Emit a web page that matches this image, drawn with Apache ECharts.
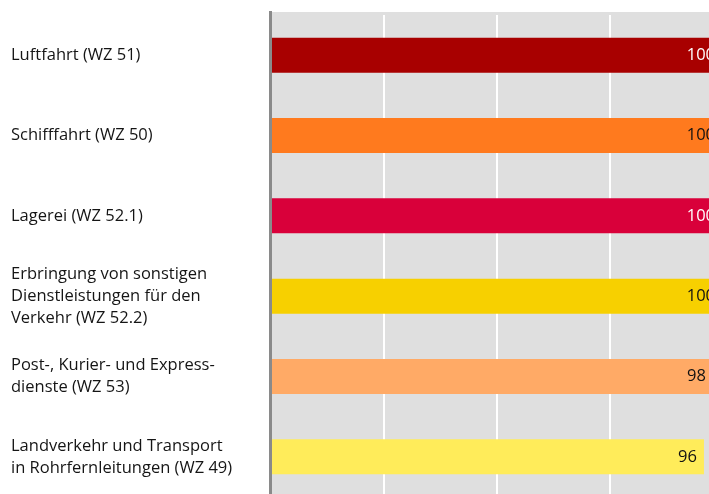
<!DOCTYPE html>
<html>
<head>
<meta charset="utf-8">
<script src="https://cdn.jsdelivr.net/npm/echarts@6/dist/echarts.min.js"></script>
<style>
  html, body { margin: 0; padding: 0; background: #fff; }
  #chart { width: 709px; height: 494px; }
</style>
</head>
<body>
<div id="chart"></div>
<script>
const categories = [
  'Luftfahrt (WZ 51)',
  'Schifffahrt (WZ 50)',
  'Lagerei (WZ 52.1)',
  'Erbringung von sonstigen\nDienstleistungen für den\nVerkehr (WZ 52.2)',
  'Post-, Kurier- und Express-\ndienste (WZ 53)',
  'Landverkehr und Transport\nin Rohrfernleitungen (WZ 49)'
];
const values = [100, 100, 100, 100, 98, 96];
const barColors = ['#a80000', '#ff7a1e', '#d9003a', '#f7d000', '#ffaa66', '#ffec5a'];
const labelColors = ['#fff', '#111', '#fff', '#111', '#111', '#111'];

const FONT = '"Open Sans", sans-serif';

const chart = echarts.init(document.getElementById('chart'));
chart.setOption({
  animation: false,
  grid: { left: 271, width: 451, top: 15, height: 482, outerBoundsMode: 'none', containLabel: false },
  graphic: [
    { type: 'rect', z: -10, silent: true,
      shape: { x: 271, y: 12, width: 450, height: 490 },
      style: { fill: '#dfdfdf' } },
    { type: 'rect', z: 100, silent: true,
      shape: { x: 269, y: 11, width: 3, height: 490 },
      style: { fill: '#8a8a8a' } }
  ],
  xAxis: {
    type: 'value', min: 0, max: 100, interval: 25,
    axisLine: { show: false }, axisTick: { show: false }, axisLabel: { show: false },
    splitLine: { show: true, lineStyle: { color: '#ffffff', width: 2 } }
  },
  yAxis: {
    type: 'category', data: categories, inverse: true,
    axisLine: { show: false }, axisTick: { show: false },
    axisLabel: {
      margin: 260, align: 'left', color: '#151515',
      fontFamily: FONT, fontSize: 16.5, lineHeight: 22
    }
  },
  series: [{
    type: 'bar',
    barWidth: 35,
    data: values.map((v, i) => ({
      value: v,
      itemStyle: { color: barColors[i] },
      label: { color: labelColors[i] }
    })),
    label: {
      show: true, position: 'insideRight', distance: 7,
      fontFamily: FONT, fontSize: 16.5
    }
  }]
});
</script>
</body>
</html>
